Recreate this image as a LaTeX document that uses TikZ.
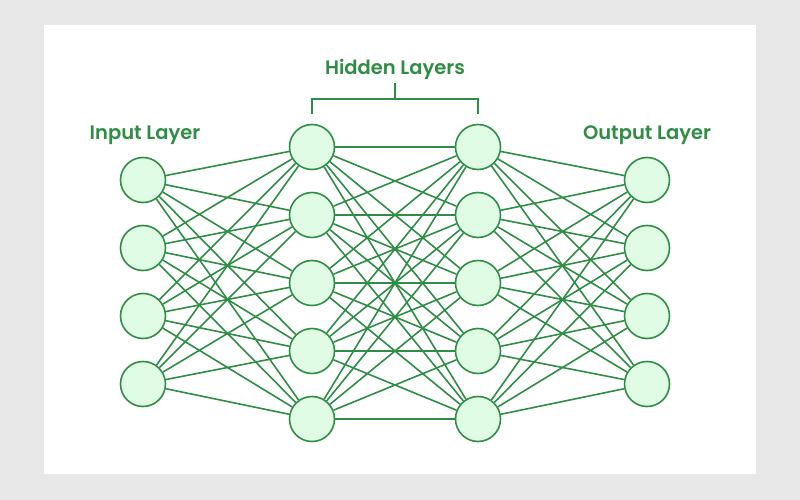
\documentclass[tikz,border=0pt]{standalone}
\usepackage{fontspec}
\setmainfont{Poppins}
\newfontfamily\semifont{Poppins SemiBold}
\usetikzlibrary{backgrounds}
\definecolor{gfg}{HTML}{2F8D46}
\definecolor{nodefill}{HTML}{E1FCE5}
\definecolor{bggray}{HTML}{E8E8E8}
\begin{document}
\begin{tikzpicture}[x=1pt,y=-1pt,
  neuron/.style={circle,draw=gfg,fill=nodefill,line width=1.6pt,minimum size=45pt,inner sep=0pt},
  link/.style={draw=gfg,line width=1.6pt},
  lbl/.style={text=gfg,font=\semifont\fontsize{19.5}{23}\selectfont,inner sep=0pt}]
% nodes
\foreach \i/\y in {1/180,2/248,3/316,4/384}{
  \node[neuron] (i\i) at (143,\y) {};
  \node[neuron] (o\i) at (647,\y) {};
}
\foreach \i/\y in {1/147,2/215,3/283,4/351,5/419}{
  \node[neuron] (a\i) at (312,\y) {};
  \node[neuron] (b\i) at (478,\y) {};
}
% labels
\node[lbl] (tin) at (145,135) {Input Layer};
\node[lbl] (tout) at (647,135) {Output Layer};
\node[lbl] (thid) at (395,69) {Hidden Layers};
\coordinate (bl) at (312,114);
\coordinate (br) at (478,114);
\coordinate (bm) at (395,83);
\draw[gfg,line width=1.6pt] (bl) -- (312,99) -- (478,99) -- (br);
\draw[gfg,line width=1.6pt] (395,99) -- (bm);
\begin{scope}[on background layer]
\fill[bggray] (0,0) rectangle (800,500);
\fill[white] (44,25) rectangle (756,474);
\foreach \i in {1,...,4}{\foreach \j in {1,...,5}{\draw[link] (i\i) -- (a\j);}}
\foreach \i in {1,...,5}{\foreach \j in {1,...,5}{\draw[link] (a\i) -- (b\j);}}
\foreach \i in {1,...,5}{\foreach \j in {1,...,4}{\draw[link] (b\i) -- (o\j);}}
\end{scope}
\useasboundingbox (0,0) rectangle (800,500);
\end{tikzpicture}
\end{document}
